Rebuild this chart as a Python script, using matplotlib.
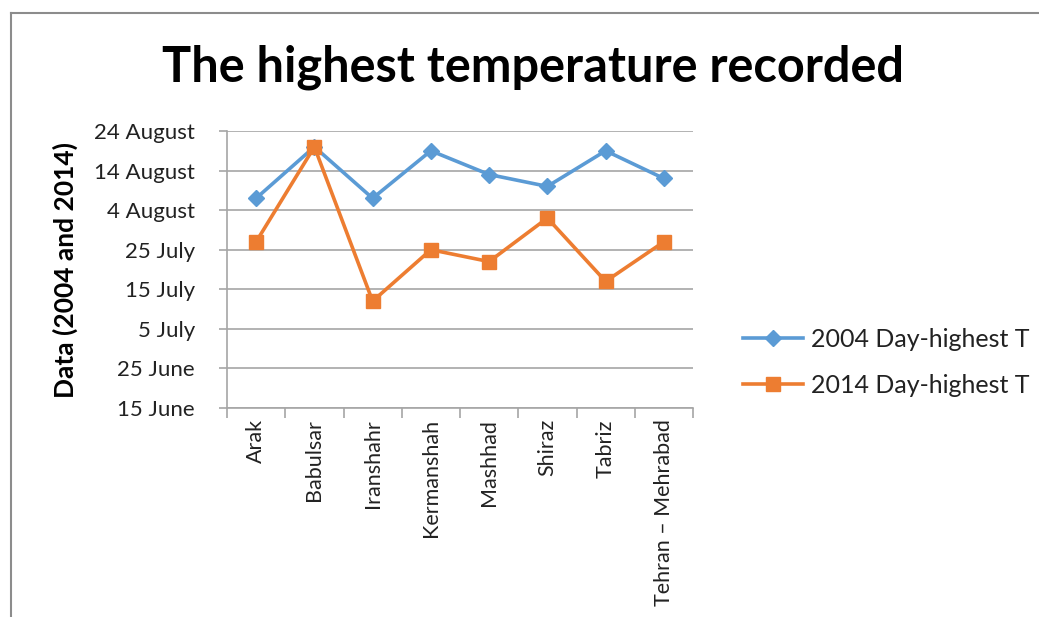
import matplotlib
matplotlib.use("Agg")
import matplotlib.pyplot as plt
from matplotlib.lines import Line2D
import pandas as pd

# Stations and the date of the hottest day in each year
stations = ["Arak", "Babulsar", "Iranshahr", "Kermanshah", "Mashhad",
            "Shiraz", "Tabriz", "Tehran – Mehrabad"]
day_2004 = ["7 August", "20 August", "7 August", "19 August", "13 August",
            "10 August", "19 August", "12 August"]
day_2014 = ["27 July", "20 August", "12 July", "25 July", "22 July",
            "2 August", "17 July", "27 July"]
y_tick_labels = ["15 June", "25 June", "5 July", "15 July", "25 July",
                 "4 August", "14 August", "24 August"]
series_names = ["2004 Day-highest T", "2014 Day-highest T"]

BLUE = "#5B9BD5"
ORANGE = "#ED7D31"
GRID = "#A6A6A6"
FONT = "Lato"


def to_day(label):
    # days counted on a common calendar so both years share one axis
    d = pd.to_datetime(label + " 2001", format="%d %B %Y")
    return d.dayofyear


y04 = [to_day(s) for s in day_2004]
y14 = [to_day(s) for s in day_2014]
yt = [to_day(s) for s in y_tick_labels]
x = list(range(len(stations)))

fig = plt.figure(figsize=(10.39, 6.17), dpi=100)
fig.patch.set_facecolor("white")

# outer chart frame (top and left edges)
fig.add_artist(Line2D([11 / 1039, 1.0], [1 - 12.5 / 617] * 2,
                      transform=fig.transFigure, color="#8C8C8C", lw=1.5))
fig.add_artist(Line2D([11 / 1039] * 2, [0.0, 1 - 12.5 / 617],
                      transform=fig.transFigure, color="#8C8C8C", lw=1.5))

ax = fig.add_axes([227 / 1039, 1 - 408 / 617, (693 - 227) / 1039, (408 - 131) / 617])

ax.plot(x, y04, color=BLUE, lw=2.6, marker="D", ms=8.5, mfc=BLUE, mec=BLUE,
        label=series_names[0], zorder=3)
ax.plot(x, y14, color=ORANGE, lw=2.6, marker="s", ms=10, mfc=ORANGE, mec=ORANGE,
        label=series_names[1], zorder=3)

ax.set_xlim(-0.5, len(stations) - 0.5)
ax.set_ylim(yt[0], yt[-1])
ax.set_yticks(yt)
ax.set_yticklabels(y_tick_labels, fontsize=16, family=FONT, color="#222222")
ax.yaxis.grid(True, color=GRID, lw=1.2)
ax.set_axisbelow(True)

ax.set_xticks(x)
ax.set_xticklabels(stations, rotation=90, fontsize=15.5, family=FONT,
                   color="#222222", va="top", ha="center")
ax.set_xticks([i - 0.5 for i in range(len(stations) + 1)], minor=True)
ax.tick_params(axis="x", which="major", length=0, pad=8)
ax.tick_params(axis="x", which="minor", length=7, color=GRID, width=1.2)
ax.tick_params(axis="y", length=6, color=GRID, width=1.2, pad=17)

for side in ("top", "right"):
    ax.spines[side].set_visible(False)
for side in ("left", "bottom"):
    ax.spines[side].set_color(GRID)
    ax.spines[side].set_linewidth(1.2)

ax.set_ylabel("Data (2004 and 2014)", fontsize=19, fontweight="bold",
              family=FONT, labelpad=12)

fig.text(533 / 1039, 1 - 67 / 617, "The highest temperature recorded",
         ha="center", va="center", fontsize=35, fontweight="bold",
         family=FONT, color="black")

leg = ax.legend(loc="center left", bbox_to_anchor=(1.06, 0.165), frameon=False,
                prop={"family": FONT, "size": 18}, handlelength=2.4,
                labelspacing=0.9, handletextpad=0.3)
for t in leg.get_texts():
    t.set_color("#222222")

fig.savefig("out.png", dpi=100, facecolor="white")
